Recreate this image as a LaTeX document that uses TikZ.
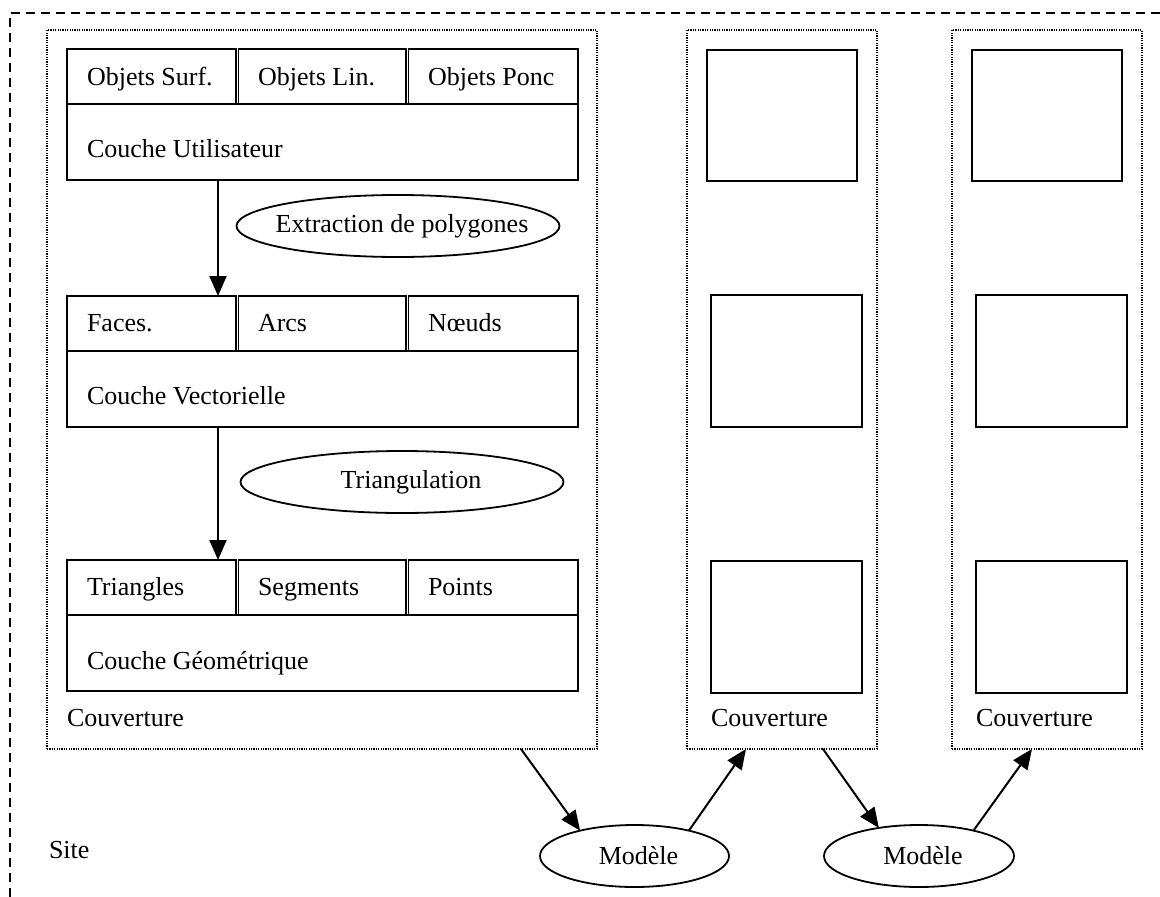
\documentclass[tikz,border=0pt]{standalone}
\usepackage{fontspec}
\setmainfont{Liberation Serif}
\usetikzlibrary{arrows.meta,shapes.geometric,calc}
\begin{document}
\begin{tikzpicture}[x=1pt,y=-1pt,
  lbl/.style={inner sep=0pt,outer sep=0pt,font=\fontsize{26}{31}\selectfont},
  cellbox/.style={draw,line width=1.8pt,inner sep=0pt,outer sep=0pt,anchor=north west,minimum height=55pt},
  layerbox/.style={draw,line width=1.8pt,inner sep=0pt,outer sep=0pt,anchor=north west,minimum width=511pt,minimum height=76pt},
  sqbox/.style={draw,line width=1.8pt,inner sep=0pt,outer sep=0pt,anchor=north west,minimum width=151pt,minimum height=132pt},
  covbox/.style={draw,line width=1.3pt,dash pattern=on 1.2pt off 1.2pt,inner sep=0pt,outer sep=0pt,anchor=north west,minimum height=719pt},
  oval/.style={draw,ellipse,line width=1.8pt,inner sep=0pt,outer sep=0pt},
  arr/.style={line width=2pt,-{Triangle[length=20pt,width=17pt]}},
  sitebord/.style={line width=1.8pt,dash pattern=on 9pt off 6pt}]
\useasboundingbox (0,0) rectangle (1160,897);
\fill[white] (0,0) rectangle (1160,897);

% Site frame
\draw[sitebord] (10,897) -- (10,13) -- (1160,13);
\node[lbl,anchor=base west] (site) at (49,858) {Site};

% Couvertures
\node[covbox,minimum width=550pt] (c1) at (47,30) {};
\node[covbox,minimum width=190pt] (c2) at (687,30) {};
\node[covbox,minimum width=190pt] (c3) at (952,30) {};
\node[lbl,anchor=base west] (c1t) at (67,726) {Couverture};
\node[lbl,anchor=base west] (c2t) at (711,726) {Couverture};
\node[lbl,anchor=base west] (c3t) at (976,726) {Couverture};

% Couche Utilisateur
\node[cellbox,minimum width=169pt] (u1) at (67,49) {};
\node[cellbox,minimum width=167.5pt] (u2) at (238.5,49) {};
\node[cellbox,minimum width=169.5pt] (u3) at (408.5,49) {};
\node[layerbox] (ub) at (67,104) {};
\node[lbl,anchor=base west] (u1t) at (87,85) {Objets Surf.};
\node[lbl,anchor=base west] (u2t) at (258,85) {Objets Lin.};
\node[lbl,anchor=base west] (u3t) at (428,85) {Objets Ponc};
\node[lbl,anchor=base west] (ubt) at (87,157) {Couche Utilisateur};

% Couche Vectorielle
\node[cellbox,minimum width=169pt] (v1) at (67,296) {};
\node[cellbox,minimum width=167.5pt] (v2) at (238.5,296) {};
\node[cellbox,minimum width=169.5pt] (v3) at (408.5,296) {};
\node[layerbox] (vb) at (67,351) {};
\node[lbl,anchor=base west] (v1t) at (87,331) {Faces.};
\node[lbl,anchor=base west] (v2t) at (258,331) {Arcs};
\node[lbl,anchor=base west] (v3t) at (428,331) {Nœuds};
\node[lbl,anchor=base west] (vbt) at (87,404) {Couche Vectorielle};

% Couche Geometrique
\node[cellbox,minimum width=169pt] (g1) at (67,560) {};
\node[cellbox,minimum width=167.5pt] (g2) at (238.5,560) {};
\node[cellbox,minimum width=169.5pt] (g3) at (408.5,560) {};
\node[layerbox] (gb) at (67,615) {};
\node[lbl,anchor=base west] (g1t) at (87,595) {Triangles};
\node[lbl,anchor=base west] (g2t) at (258,595) {Segments};
\node[lbl,anchor=base west] (g3t) at (428,595) {Points};
\node[lbl,anchor=base west] (gbt) at (87,669) {Couche Géométrique};

% processes
\node[oval,minimum width=323pt,minimum height=62pt] (e1) at (398,226) {};
\node[lbl] (e1t) at ($(e1)+(4,0)$) {Extraction de polygones};
\node[oval,minimum width=323pt,minimum height=62pt] (e2) at (402,482) {};
\node[lbl] (e2t) at ($(e2)+(9,0)$) {Triangulation};

\draw[arr] ($(ub.south west)+(151,0)$) -- ($(v1.north west)+(151,0)$);
\draw[arr] ($(vb.south west)+(151,0)$) -- ($(g1.north west)+(151,0)$);

% empty layers of other couvertures
\node[sqbox,minimum width=150pt,minimum height=131pt] (s21) at (707,50) {};
\node[sqbox] (s22) at (711,295) {};
\node[sqbox] (s23) at (711,561) {};
\node[sqbox,minimum width=150pt,minimum height=131pt] (s31) at (972,50) {};
\node[sqbox] (s32) at (976,295) {};
\node[sqbox] (s33) at (976,561) {};

% Modeles
\node[oval,minimum width=189pt,minimum height=62pt] (m1) at (634.5,856) {};
\node[lbl] (m1t) at ($(m1)+(4,0)$) {Modèle};
\node[oval,minimum width=190pt,minimum height=62pt] (m2) at (919,856) {};
\node[lbl] (m2t) at ($(m2)+(4,0)$) {Modèle};

\draw[arr] ($(c1.south west)+(474,0)$) -- (m1.155);
\draw[arr] (m1.25) -- ($(c2.south west)+(59,0)$);
\draw[arr] ($(c2.south west)+(136,0)$) -- (m2.145);
\draw[arr] (m2.25) -- ($(c3.south west)+(80,0)$);
\end{tikzpicture}
\end{document}
